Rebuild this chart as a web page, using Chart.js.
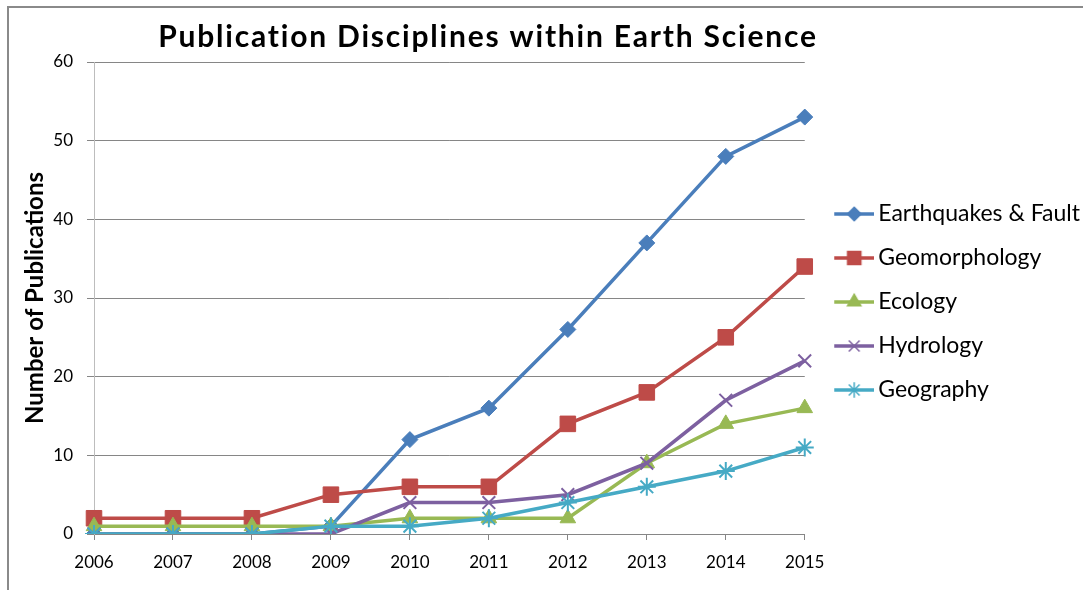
<!DOCTYPE html>
<html>
<head>
<meta charset="utf-8">
<script src="https://cdn.jsdelivr.net/npm/chart.js@4.4.0/dist/chart.umd.min.js"></script>
<style>
    html, body { margin: 0; padding: 0; background: #fff; width: 1083px; height: 590px; overflow: hidden; }
    #frame { position: absolute; left: 7px; top: 6px; border-left: 2px solid #8a8a8a; border-top: 2px solid #8a8a8a; }
    canvas { display: block; }
</style>
</head>
<body>
<div id="frame"><canvas id="chart" width="1083" height="582"></canvas></div>
<script>
// 数据
const chartTitle = 'Publication Disciplines within Earth Science';
const yTitle = 'Number of Publications';
const years = ['2006', '2007', '2008', '2009', '2010', '2011', '2012', '2013', '2014', '2015'];
const earthquakes = [0, 0, 0, 1, 12, 16, 26, 37, 48, 53];
const geomorphology = [2, 2, 2, 5, 6, 6, 14, 18, 25, 34];
const ecology = [1, 1, 1, 1, 2, 2, 2, 9, 14, 16];
const hydrology = [0, 0, 0, 0, 4, 4, 5, 9, 17, 22];
const geography = [0, 0, 0, 1, 1, 2, 4, 6, 8, 11];

const FONT = 'Lato, "Open Sans", sans-serif';
const LEGEND_SIZE = 23;

const series = [
    { label: 'Earthquakes & Fault', data: earthquakes, color: '#4a7ebb', style: 'rectRot', radius: 8 },
    { label: 'Geomorphology', data: geomorphology, color: '#be4b48', style: 'rect', radius: 11 },
    { label: 'Ecology', data: ecology, color: '#98b954', style: 'triangle', radius: 9 },
    { label: 'Hydrology', data: hydrology, color: '#7d60a0', style: 'crossRot', radius: 9 },
    { label: 'Geography', data: geography, color: '#46aac5', style: 'star', radius: 9 },
];

// 图例：线 + 标记
function legendIcon(s) {
    const c = document.createElement('canvas');
    c.width = 56; c.height = 24;
    const g = c.getContext('2d');
    g.strokeStyle = s.color;
    g.fillStyle = s.color;
    g.lineWidth = 3.5;
    g.beginPath(); g.moveTo(16, 12); g.lineTo(56, 12); g.stroke();
    g.lineWidth = 1.5;
    Chart.helpers.drawPoint(g, { pointStyle: s.style, radius: s.radius * 0.85, borderWidth: 1.5, rotation: 0 }, 36, 12);
    return c;
}

const titlePlugin = {
    id: 'titleText',
    afterDraw(chart) {
        const ctx = chart.ctx;
        ctx.save();
        ctx.font = 'bold 30px ' + FONT;
        ctx.letterSpacing = '1.8px';
        ctx.fillStyle = '#000';
        ctx.textAlign = 'center';
        ctx.textBaseline = 'alphabetic';
        ctx.fillText(chartTitle, 479, 39);
        ctx.restore();
    }
};

// 图例裁剪区域放宽一些，免得最长的那条被切掉
const legendRoom = {
    id: 'legendRoom',
    afterLayout(chart) {
        if (chart.legend) chart.legend.right += 30;
    }
};

const ctx = document.getElementById('chart').getContext('2d');
new Chart(ctx, {
    type: 'line',
    data: {
        labels: years,
        datasets: series.map((s, i) => ({
            label: s.label,
            data: s.data,
            borderColor: s.color,
            backgroundColor: s.color,
            borderWidth: 3.5,
            pointStyle: s.style,
            pointRadius: s.radius,
            pointBorderWidth: (s.style === 'crossRot' || s.style === 'star') ? 2 : 1,
            pointBackgroundColor: s.color,
            pointBorderColor: s.color,
            tension: 0,
            fill: false,
            order: series.length - i,
        })),
    },
    options: {
        responsive: false,
        animation: false,
        devicePixelRatio: 1,
        layout: { padding: { top: 54, left: 0, right: 22, bottom: 0 } },
        plugins: {
            title: { display: false },
            tooltip: { enabled: false },
            legend: {
                position: 'right',
                align: 'center',
                fullSize: false,
                // 空标题只用来把图例往下挪一点
                title: { display: true, text: '', padding: 0, font: { size: 8, lineHeight: 1 } },
                labels: {
                    usePointStyle: true,
                    pointStyleWidth: 41,
                    padding: 44 - LEGEND_SIZE,
                    color: '#000',
                    font: { size: LEGEND_SIZE, family: FONT },
                    generateLabels: () => series.map((s, i) => ({
                        text: s.label,
                        pointStyle: legendIcon(s),
                        fillStyle: s.color,
                        strokeStyle: s.color,
                        fontColor: '#000',
                        lineWidth: 0,
                        hidden: false,
                        datasetIndex: i,
                    })),
                }
            }
        },
        scales: {
            x: {
                offset: false,
                grid: { display: true, drawOnChartArea: false, drawTicks: true, tickLength: 6, color: '#868686' },
                border: { display: true, color: '#868686' },
                ticks: { color: '#000', padding: 12, maxRotation: 0, font: { size: 17, family: FONT } },
                afterFit: (s) => { s.height = 56; },
            },
            y: {
                min: 0,
                max: 60,
                grid: { color: '#868686', tickLength: 7, drawTicks: true },
                border: { display: true, color: '#bdbdbd' },
                ticks: { stepSize: 10, color: '#000', padding: 14, font: { size: 17, family: FONT } },
                title: {
                    display: true,
                    text: yTitle,
                    color: '#000',
                    padding: { top: 12, bottom: 0 },
                    font: { size: 24, weight: 'bold', family: FONT },
                },
                afterFit: (s) => { s.width = 85; },
            }
        }
    },
    plugins: [titlePlugin, legendRoom]
});
</script>
</body>
</html>
